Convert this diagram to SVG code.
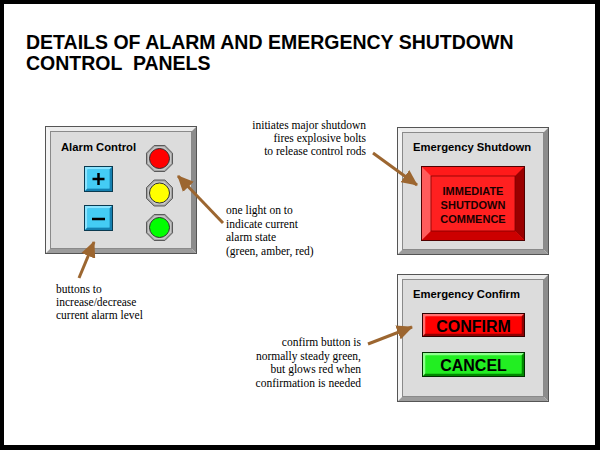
<svg xmlns="http://www.w3.org/2000/svg" width="600" height="450" viewBox="0 0 600 450">
<style>
.title{font-family:"Liberation Sans",Arial,sans-serif;font-weight:bold;font-size:19.5px;fill:#000}
.ptitle{font-family:"Liberation Sans",Arial,sans-serif;font-weight:bold;font-size:11.25px;fill:#000}
.note{font-family:"Liberation Serif","Times New Roman",serif;font-size:11.5px;fill:#000}
.btn{font-family:"Liberation Sans",Arial,sans-serif;font-weight:bold;font-size:16px;fill:#000;text-anchor:middle}
.big{font-family:"Liberation Sans",Arial,sans-serif;font-weight:bold;font-size:11px;fill:#1a0000;text-anchor:middle}
.arrow{stroke:#9c6630;stroke-width:3;fill:none;marker-end:url(#ah)}
.po{fill:none;stroke:#555;stroke-width:1}
.pt{fill:#ececec}
.pl{fill:#f4f4f4}
.pr{fill:#8c8c8c}
.pb{fill:#9c9c9c}
.pf{fill:#dcdcdc;stroke:#8a8a8a;stroke-width:1}
.oct{fill:#a4a4a4;stroke:#5a5a5a;stroke-width:1}
.oct2{fill:#c8c8c8}
.lamp{stroke:#303030;stroke-width:1}
.cy-o{fill:#2aa8d8;stroke:#0a3a50;stroke-width:1}
.cy-l{fill:#8ae4ff}
.cy-d{fill:#1480b0}
.cy-f{fill:#44ccf4}
.sym{stroke:#000;stroke-width:2.5;fill:none}
</style>
<defs>
<marker id="ah" markerUnits="userSpaceOnUse" markerWidth="17" markerHeight="15" refX="15" refY="7.5" orient="auto"><path d="M0,0 L16,7.5 L0,15 Z" fill="#9c6630"/></marker>
<g id="panelShape">
<path class="pt" d="M0.5,0.5 H151.5 L146.5,5.5 H5.5 Z"/>
<path class="pl" d="M0.5,0.5 L5.5,5.5 V122.5 L0.5,127.5 Z"/>
<path class="pr" d="M151.5,0.5 V127.5 L146.5,122.5 V5.5 Z"/>
<path class="pb" d="M0.5,127.5 H151.5 L146.5,122.5 H5.5 Z"/>
<rect class="pf" x="5.5" y="5.5" width="141" height="117"/>
<rect class="po" x="0.5" y="0.5" width="151" height="127"/>
</g>
<g id="octShape">
<polygon class="oct" points="13,5.385 5.385,13 -5.385,13 -13,5.385 -13,-5.385 -5.385,-13 5.385,-13 13,-5.385"/>
<polygon class="oct2" points="11.5,4.76 4.76,11.5 -4.76,11.5 -11.5,4.76 -11.5,-4.76 -4.76,-11.5 4.76,-11.5 11.5,-4.76"/>
</g>
<g id="cyanBtn">
<rect class="cy-o" x="0.5" y="0.5" width="28" height="25"/>
<path class="cy-l" d="M1,1 H28 L25.5,3.5 H3.5 V22.5 L1,25 Z"/>
<path class="cy-d" d="M28,1 V25 H1 L3.5,22.5 H25.5 V3.5 Z"/>
<rect class="cy-f" x="3.5" y="3.5" width="22" height="19"/>
</g>
</defs>

<rect x="0" y="0" width="600" height="450" fill="#000"/>
<rect x="4" y="4" width="591" height="441" fill="#fff"/>

<g id="title">
<text class="title" x="26" y="49">DETAILS OF ALARM AND EMERGENCY SHUTDOWN</text>
<text class="title" x="26" y="70" xml:space="preserve">CONTROL  PANELS</text>
</g>

<g id="alarm-panel">
<use href="#panelShape" x="45" y="126"/>
<text class="ptitle" x="61" y="151">Alarm Control</text>
</g>

<g id="btn-plus">
<use href="#cyanBtn" x="84" y="166"/>
<path class="sym" d="M92.5,179 H104.5 M98.5,173 V185"/>
</g>

<g id="btn-minus">
<use href="#cyanBtn" x="84" y="205"/>
<path class="sym" d="M92,219 H105"/>
</g>

<g id="light-red">
<use href="#octShape" transform="translate(159.5,158.5)"/>
<circle class="lamp" cx="159.5" cy="158.5" r="10" fill="#ff0000"/>
</g>
<g id="light-amber">
<use href="#octShape" transform="translate(159.5,193)"/>
<circle class="lamp" cx="159.5" cy="193" r="10" fill="#ffff00"/>
</g>
<g id="light-green">
<use href="#octShape" transform="translate(159.5,227.5)"/>
<circle class="lamp" cx="159.5" cy="227.5" r="10" fill="#00ff00"/>
</g>

<g id="shutdown-panel">
<use href="#panelShape" x="397" y="127"/>
<text class="ptitle" x="413" y="151">Emergency Shutdown</text>
</g>

<g id="btn-shutdown">
<rect x="421.5" y="166.5" width="103" height="74" fill="#ff2020" stroke="#500000" stroke-width="1"/>
<path d="M422,167 H524 L515,176 H431 Z" fill="#ff1a1a"/>
<path d="M422,167 L431,176 V231 L422,240 Z" fill="#ff5c5c"/>
<path d="M524,167 V240 L515,231 V176 Z" fill="#9a0000"/>
<path d="M422,240 H524 L515,231 H431 Z" fill="#cc0000"/>
<rect x="431" y="176" width="84" height="55" fill="#ff2020" stroke="#800000" stroke-width="0.8"/>
<text class="big" x="473" y="195">IMMEDIATE</text>
<text class="big" x="473" y="209">SHUTDOWN</text>
<text class="big" x="473" y="223">COMMENCE</text>
</g>

<g id="confirm-panel">
<use href="#panelShape" x="397" y="274"/>
<text class="ptitle" x="413" y="298">Emergency Confirm</text>
</g>

<g id="btn-confirm">
<rect x="422.5" y="313.5" width="102" height="23" fill="#ff0000" stroke="#300000" stroke-width="1"/>
<path d="M423,314 H524 L521.5,316.5 H425.5 V333.5 L423,336 Z" fill="#ff7070"/>
<path d="M524,314 V336 H423 L425.5,333.5 H521.5 V316.5 Z" fill="#900000"/>
<rect x="425.5" y="316.5" width="96" height="17" fill="#ff0000"/>
<text class="btn" x="473.5" y="331.5">CONFIRM</text>
</g>

<g id="btn-cancel">
<rect x="422.5" y="352.5" width="102" height="24" fill="#22ee22" stroke="#003000" stroke-width="1"/>
<path d="M423,353 H524 L521.5,355.5 H425.5 V373.5 L423,376 Z" fill="#90ff90"/>
<path d="M524,353 V376 H423 L425.5,373.5 H521.5 V355.5 Z" fill="#008800"/>
<rect x="425.5" y="355.5" width="96" height="18" fill="#22ee22"/>
<text class="btn" x="473.5" y="370.5">CANCEL</text>
</g>

<g id="connectors">
<line class="arrow" x1="223" y1="223" x2="178" y2="176"/>
<line class="arrow" x1="79" y1="278" x2="94" y2="242"/>
<line class="arrow" x1="373" y1="153" x2="417" y2="185"/>
<line class="arrow" x1="368" y1="344" x2="412" y2="327"/>
</g>

<g id="notes">
<text class="note" text-anchor="end" x="366" y="129">initiates major shutdown</text>
<text class="note" text-anchor="end" x="366" y="142">fires explosive bolts</text>
<text class="note" text-anchor="end" x="366" y="155">to release control rods</text>
<text class="note" x="226" y="214">one light on to</text>
<text class="note" x="226" y="227.5">indicate current</text>
<text class="note" x="226" y="241">alarm state</text>
<text class="note" x="226" y="254.5">(green, amber, red)</text>
<text class="note" x="56" y="293">buttons to</text>
<text class="note" x="56" y="306">increase/decrease</text>
<text class="note" x="56" y="319">current alarm level</text>
<text class="note" text-anchor="end" x="361" y="346">confirm button is</text>
<text class="note" text-anchor="end" x="361" y="359.5">normally steady green,</text>
<text class="note" text-anchor="end" x="361" y="373">but glows red when</text>
<text class="note" text-anchor="end" x="361" y="386.5">confirmation is needed</text>
</g>
</svg>
